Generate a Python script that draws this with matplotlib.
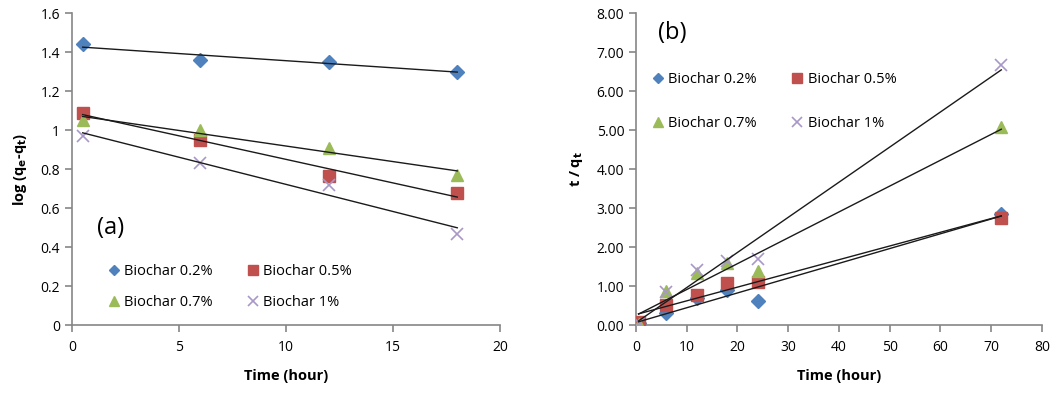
import numpy as np
import matplotlib
matplotlib.use('Agg')
import matplotlib.pyplot as plt

# (a) pseudo-first-order, log(qe-qt) vs time
time_a = [0.5, 6, 12, 18]
log_02 = [1.44, 1.36, 1.35, 1.30]
log_05 = [1.09, 0.95, 0.765, 0.68]
log_07 = [1.05, 1.00, 0.91, 0.77]
log_1 = [0.97, 0.83, 0.72, 0.465]

# (b) pseudo-second-order, t/qt vs time
time_b = [0.5, 6, 12, 18, 24, 72]
tq_02 = [0.05, 0.32, 0.69, 0.90, 0.62, 2.85]
tq_05 = [0.08, 0.51, 0.77, 1.07, 1.11, 2.75]
tq_07 = [0.02, 0.88, 1.33, 1.59, 1.40, 5.07]
tq_1 = [0.05, 0.85, 1.41, 1.64, 1.69, 6.67]

labels = ['Biochar 0.2%', 'Biochar 0.5%', 'Biochar 0.7%', 'Biochar 1%']
colors = ['#4F81BD', '#C0504D', '#9BBB59', '#A898C8']
markers = ['D', 's', '^', 'x']
msizes = [7, 9, 9, 9]

plt.rcParams['font.family'] = ['Open Sans', 'DejaVu Sans']
plt.rcParams['font.size'] = 10
axcol = '#868686'

fig = plt.figure(figsize=(10.57, 3.98), dpi=100)
ax1 = fig.add_axes([0.0681, 0.183, 0.405, 0.784])
ax2 = fig.add_axes([0.6017, 0.183, 0.384, 0.784])


def panel(ax, xs, series):
    hs = []
    for ys, lbl, c, m, s in zip(series, labels, colors, markers, msizes):
        kw = dict(color=c, markeredgewidth=1.2) if m == 'x' else dict(color=c, markeredgecolor=c)
        h, = ax.plot(xs, ys, linestyle='none', marker=m, markersize=s, label=lbl, zorder=3, **kw)
        hs.append(h)
    for ys in series:
        k, b = np.polyfit(xs, ys, 1)
        xx = np.array([xs[0], xs[-1]])
        ax.plot(xx, k * xx + b, color='#1a1a1a', lw=1.0, zorder=4)
    for side in ['top', 'right']:
        ax.spines[side].set_visible(False)
    for side in ['left', 'bottom']:
        ax.spines[side].set_color(axcol)
        ax.spines[side].set_linewidth(1.2)
    ax.tick_params(direction='out', color=axcol, width=1.2, length=5, labelsize=10, colors='#000000')
    ax.tick_params(axis='x', pad=6)
    ax.set_xlabel('Time (hour)', fontweight='bold', fontsize=10.5, labelpad=10)
    # row-major legend order: 0.2, 0.5 / 0.7, 1
    return [hs[0], hs[2], hs[1], hs[3]]


hs = panel(ax1, time_a, [log_02, log_05, log_07, log_1])
ax1.set_xlim(0, 20)
ax1.set_ylim(0, 1.6)
ax1.set_xticks([0, 5, 10, 15, 20])
ax1.set_yticks([0, 0.2, 0.4, 0.6, 0.8, 1.0, 1.2, 1.4, 1.6])
ax1.set_yticklabels(['0', '0.2', '0.4', '0.6', '0.8', '1', '1.2', '1.4', '1.6'])
ax1.set_ylabel(r'log (q$_\mathbf{e}$-q$_\mathbf{t}$)', fontweight='bold', fontsize=10.5, labelpad=8)
ax1.text(1.15, 0.5, '(a)', fontsize=17, va='center')
ax1.legend(handles=hs, loc='upper left', bbox_to_anchor=(0.07, 0.215), ncol=2, frameon=False,
           markerscale=0.75, handlelength=0.8, handletextpad=0.3, columnspacing=2.4,
           labelspacing=1.1, fontsize=10.5, borderaxespad=0)

hs = panel(ax2, time_b, [tq_02, tq_05, tq_07, tq_1])
ax2.set_xlim(0, 80)
ax2.set_ylim(0, 8)
ax2.set_xticks(range(0, 81, 10))
ax2.set_yticks(range(0, 9))
ax2.set_yticklabels(['%.2f' % v for v in range(0, 9)])
ax2.set_ylabel(r't / q$_\mathbf{t}$', fontweight='bold', fontsize=10.5, labelpad=8)
ax2.text(4.3, 7.5, '(b)', fontsize=17, va='center')
ax2.legend(handles=hs, loc='upper left', bbox_to_anchor=(0.025, 0.83), ncol=2, frameon=False,
           markerscale=0.75, handlelength=0.8, handletextpad=0.3, columnspacing=2.4,
           labelspacing=2.0, fontsize=10.5, borderaxespad=0)

fig.savefig('out.png', dpi=100)
